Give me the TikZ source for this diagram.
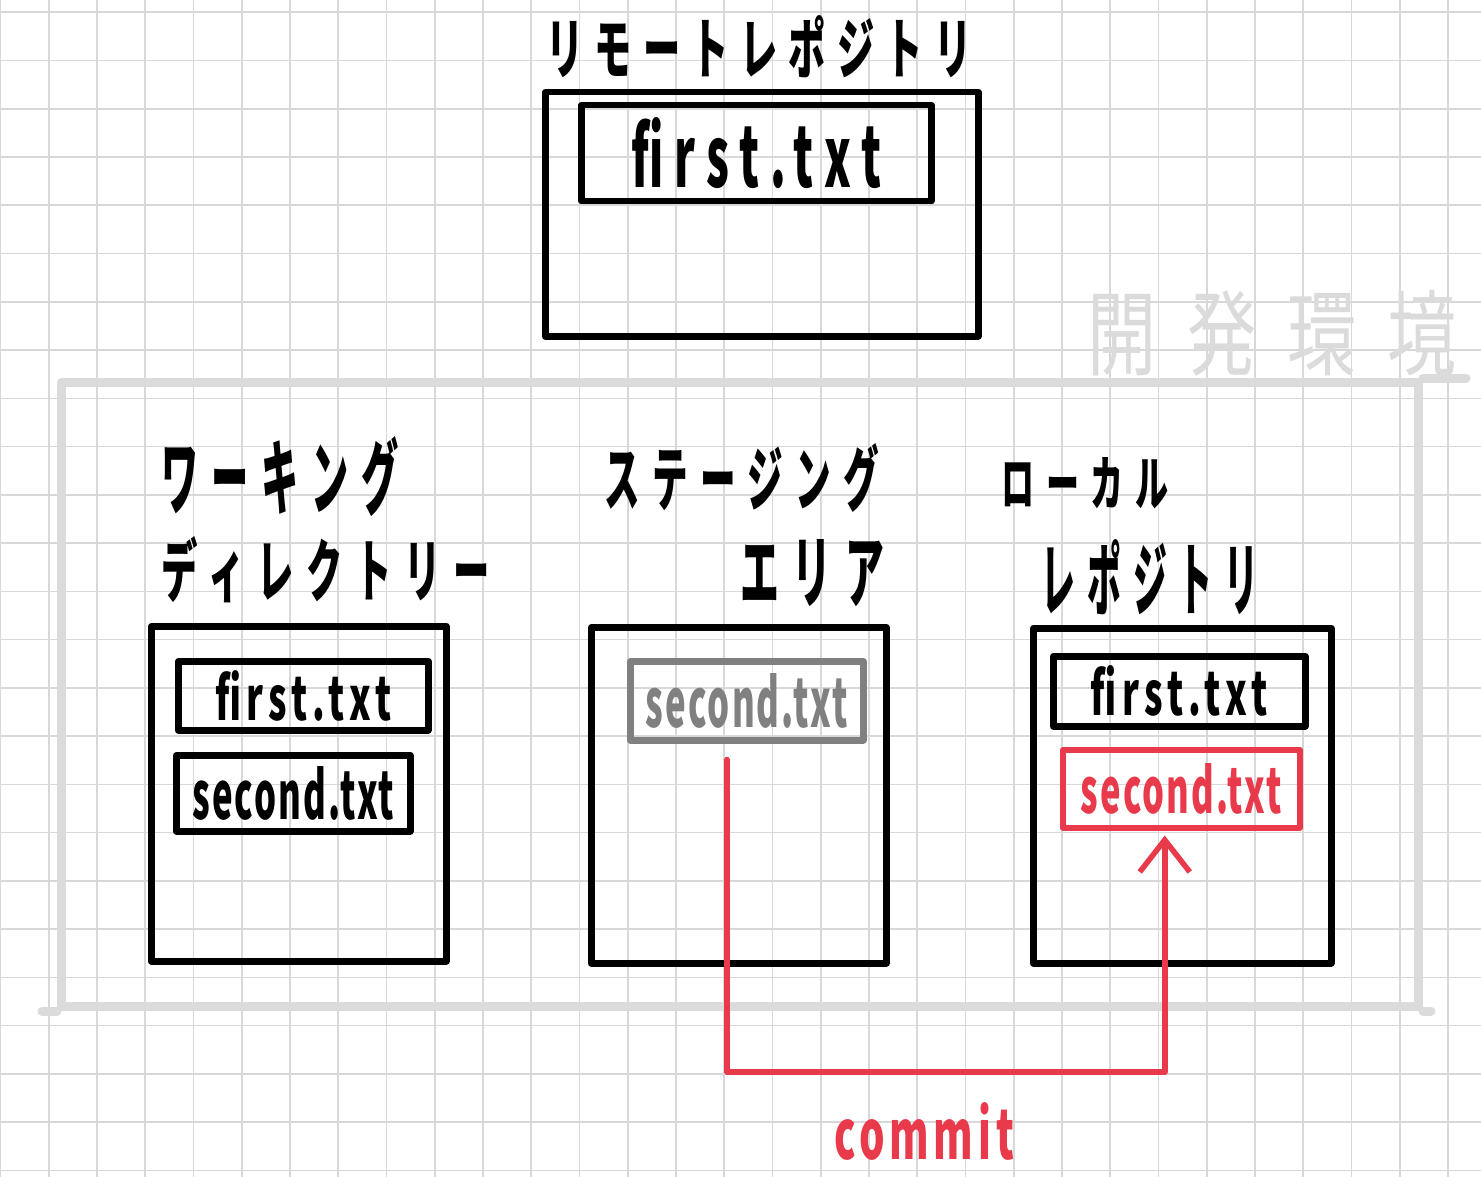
\documentclass[tikz,border=0pt]{standalone}
\usepackage{fontspec}
\usepackage{graphicx}
\newfontfamily\jp{Noto Sans CJK JP}
\usetikzlibrary{arrows.meta}
\definecolor{inkred}{RGB}{232,58,74}
\definecolor{gridgray}{RGB}{216,216,216}
\definecolor{envgray}{RGB}{219,219,219}
\definecolor{filegray}{RGB}{128,128,128}
% width, height, letter spacing, text
\newcommand{\hw}[4]{\resizebox{#1pt}{#2pt}{\addfontfeature{LetterSpace=#3}#4}}
\begin{document}
\begin{tikzpicture}[x=1pt,y=-1pt,
  gridline/.style={draw=gridgray, line width=1.6pt},
  ink/.style={line width=6.5pt, line cap=round, line join=round},
  container/.style={ink, draw=black, rectangle, inner sep=0pt, anchor=north west},
  filebox/.style={ink, draw=black, rectangle, inner sep=0pt, anchor=north west, font=\jp\bfseries},
  envbox/.style={draw=envgray, line width=9pt, line cap=round, line join=round, rectangle, inner sep=0pt, anchor=north west},
  envline/.style={draw=envgray, line width=9pt, line cap=round},
  title/.style={inner sep=0pt, font=\jp\bfseries},
  commitline/.style={draw=inkred, line width=5.5pt, line cap=round, line join=round},
]
\useasboundingbox (0,0) rectangle (1481,1177);
\fill[white] (0,0) rectangle (1481,1177);
% grid paper
\foreach \i in {0,...,30} \draw[gridline] ({0.5+\i*48.25},0) -- ({0.5+\i*48.25},1177);
\foreach \j in {0,...,24} \draw[gridline] (0,{12.3+\j*48.25}) -- (1481,{12.3+\j*48.25});

% development environment frame
\node[envbox, minimum width=1357pt, minimum height=624pt] (env) at (57,378) {};
\draw[envline] (env.north east) -- ++(43,0);
\draw[envline] (env.south west) -- ++(-15,0);
\draw[envline] (env.south east) -- ++(8,0);
\node[inner sep=0pt, font=\jp, text=envgray] (envlbl) at (1272,333) {\hw{370}{78}{45}{開発環境}};

% remote repository
\node[title] (remotelbl) at (759,47) {\hw{425}{58}{30}{リモートレポジトリ}};
\node[container, minimum width=433pt, minimum height=244pt] (remote) at (542,89) {};
\node[filebox, minimum width=350pt, minimum height=96pt] (rfirst) at (578,102) {\hw{250}{70}{25}{first.txt}};

% working directory
\node[title] (worklbla) at (280,477) {\hw{237}{72}{35}{ワーキング}};
\node[title] (worklblb) at (326,570) {\hw{328}{60}{35}{ディレクトリー}};
\node[container, minimum width=295pt, minimum height=335pt] (work) at (148,623) {};
\node[filebox, minimum width=250pt, minimum height=69pt] (wfirst) at (175,658) {\hw{176}{50}{15}{first.txt}};
\node[filebox, minimum width=234pt, minimum height=76pt] (wsecond) at (173,752) {\hw{202}{53}{6}{second.txt}};

% staging area
\node[title] (stagelbla) at (742,478) {\hw{275}{62}{35}{ステージング}};
\node[title] (stagelblb) at (812,573) {\hw{144}{62}{35}{エリア}};
\node[container, minimum width=295pt, minimum height=336pt] (stage) at (588,624) {};
\node[filebox, draw=filegray, text=filegray, minimum width=233pt, minimum height=79pt] (stsec) at (627,658) {\hw{202}{54}{6}{second.txt}};

% local repository
\node[title] (locallbla) at (1085,483) {\hw{167}{48}{35}{ローカル}};
\node[title] (locallblb) at (1150,577) {\hw{217}{70}{35}{レポジトリ}};
\node[container, minimum width=298pt, minimum height=335pt] (local) at (1030,625) {};
\node[filebox, minimum width=252pt, minimum height=70pt] (lfirst) at (1050,653) {\hw{177}{50}{15}{first.txt}};
\node[filebox, draw=inkred, text=inkred, line width=5.5pt, minimum width=237pt, minimum height=78pt] (lsec) at (1060,747) {\hw{201}{50}{6}{second.txt}};

% commit connector
\coordinate (cy) at (0,1072);
\draw[commitline, -{Straight Barb[length=32pt,width=50pt]}]
  ([xshift=-20pt,yshift=-16pt]stsec.south) -- ([xshift=-20pt]stsec.south |- cy)
  -| ([xshift=-16.5pt,yshift=-5pt]lsec.south);
\node[inner sep=0pt, font=\jp\bfseries, text=inkred] (commitlbl) at (924,1131) {\hw{180}{57}{12}{commit}};
\end{tikzpicture}
\end{document}
